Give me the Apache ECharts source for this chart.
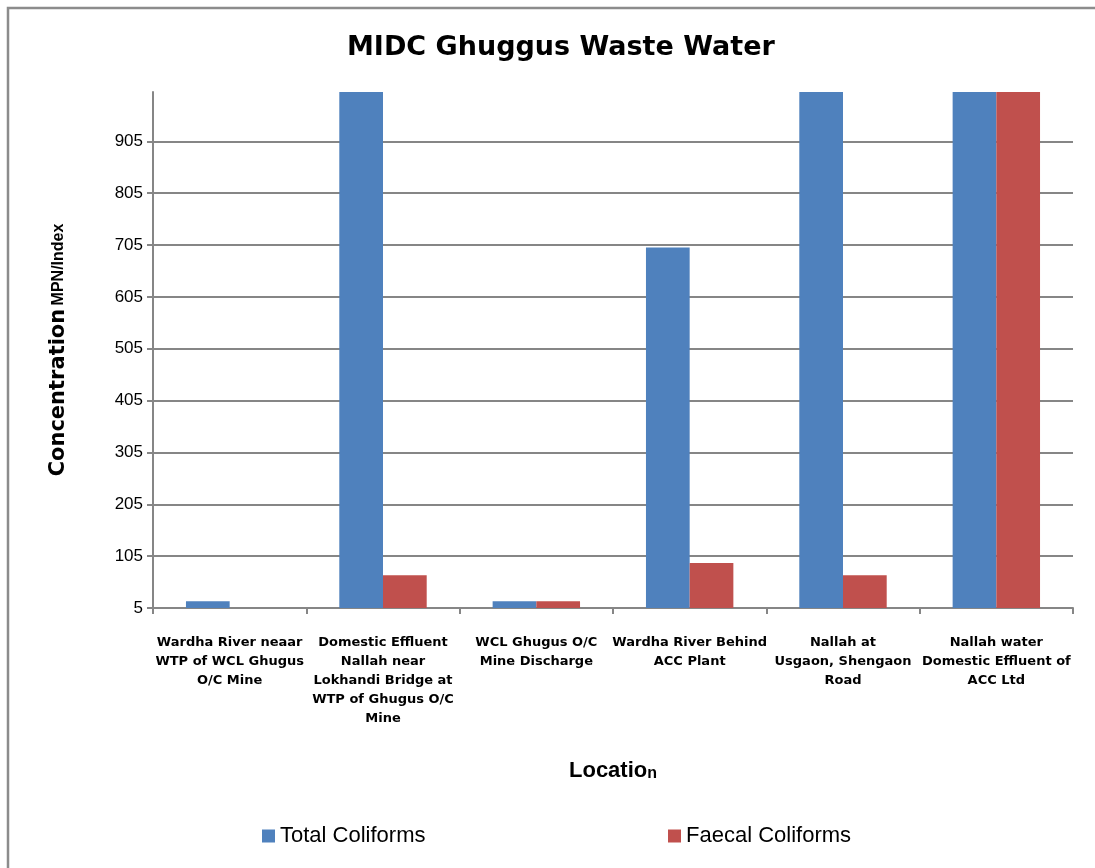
<!DOCTYPE html>
<html>
<head>
<meta charset="utf-8">
<script src="https://cdn.jsdelivr.net/npm/echarts@6/dist/echarts.min.js"></script>
<style>
  html, body { margin: 0; padding: 0; background: #fff; }
  #main { width: 1095px; height: 868px; }
</style>
</head>
<body>
<div id="main"></div>
<script>
// locations on the x axis
var locations = [
  'Wardha River neaar\nWTP of WCL Ghugus\nO/C Mine',
  'Domestic Effluent\nNallah near\nLokhandi Bridge at\nWTP of Ghugus O/C\nMine',
  'WCL Ghugus O/C\nMine Discharge',
  'Wardha River Behind\nACC Plant',
  'Nallah at\nUsgaon, Shengaon\nRoad',
  'Nallah water\nDomestic Effluent of\nACC Ltd'
];
// values above 1000 run past the top of the axis (clipped)
var totalColiforms = [18, 1600, 18, 700, 1600, 1600];
var faecalColiforms = [0, 68, 18, 92, 68, 1600];
var yTicks = [5, 105, 205, 305, 405, 505, 605, 705, 805, 905];

var mychart = echarts.init(document.getElementById('main'));
var option = {
  backgroundColor: '#fff',
  animation: false,
  graphic: [{
    type: 'polyline',
    shape: { points: [[8, 868], [8, 8], [1095, 8]] },
    style: { stroke: '#8c8c8c', lineWidth: 2.5, fill: null }
  }],
  title: {
    text: 'MIDC Ghuggus Waste Water',
    left: 342,
    top: 29,
    textStyle: {
      fontFamily: 'DejaVu Sans',
      fontWeight: 'bold',
      fontSize: 27,
      color: '#000'
    }
  },
  legend: [{
    data: ['Total Coliforms'],
    left: 257,
    top: 820,
    itemWidth: 13,
    itemHeight: 13,
    icon: 'rect',
    textStyle: { fontFamily: 'Liberation Sans', fontSize: 22, color: '#000' }
  }, {
    data: ['Faecal Coliforms'],
    left: 663,
    top: 820,
    itemWidth: 13,
    itemHeight: 13,
    icon: 'rect',
    textStyle: { fontFamily: 'Liberation Sans', fontSize: 22, color: '#000' }
  }],
  grid: {
    left: 153,
    right: 22,
    top: 92,
    bottom: 260
  },
  xAxis: {
    type: 'category',
    data: locations,
    name: '{a|Locatio}{b|n}',
    nameLocation: 'middle',
    nameGap: 152,
    nameTextStyle: {
      rich: {
        a: { fontFamily: 'Liberation Sans', fontWeight: 'bold', fontSize: 22, color: '#000' },
        b: { fontFamily: 'Liberation Sans', fontWeight: 'bold', fontSize: 16, color: '#000', verticalAlign: 'bottom' }
      }
    },
    axisLine: { lineStyle: { color: '#868686', width: 2 } },
    axisTick: { show: true, length: 6, lineStyle: { color: '#868686', width: 2 } },
    axisLabel: {
      interval: 0,
      margin: 25,
      fontFamily: 'DejaVu Sans',
      fontWeight: 'bold',
      fontSize: 13,
      lineHeight: 19,
      color: '#000'
    }
  },
  yAxis: {
    type: 'value',
    min: 5,
    max: 1000,
    name: '{a|Concentration} {b|MPN/Index}',
    nameLocation: 'middle',
    nameGap: 84,
    nameRotate: 90,
    nameTextStyle: {
      rich: {
        a: { fontFamily: 'DejaVu Sans', fontWeight: 'bold', fontSize: 21, color: '#000' },
        b: { fontFamily: 'Liberation Sans', fontWeight: 'bold', fontSize: 16, color: '#000' }
      }
    },
    axisLine: { show: true, lineStyle: { color: '#868686', width: 2 } },
    axisTick: { show: true, length: 6, customValues: yTicks, lineStyle: { color: '#868686', width: 2 } },
    splitLine: { show: true, customValues: yTicks, lineStyle: { color: '#868686', width: 2 } },
    axisLabel: {
      customValues: yTicks,
      margin: 10,
      fontFamily: 'Liberation Sans',
      fontSize: 17,
      color: '#000'
    }
  },
  series: [{
    name: 'Total Coliforms',
    type: 'bar',
    data: totalColiforms,
    barGap: 0,
    barCategoryGap: '43%',
    itemStyle: { color: '#4f81bd' }
  }, {
    name: 'Faecal Coliforms',
    type: 'bar',
    data: faecalColiforms,
    itemStyle: { color: '#c0504d' }
  }]
};
mychart.setOption(option);
</script>
</body>
</html>
